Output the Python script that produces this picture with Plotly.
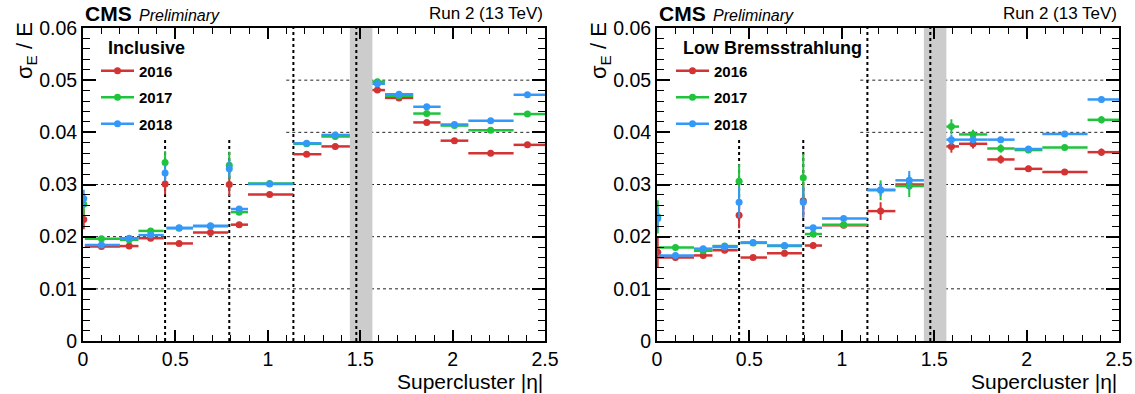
import plotly.graph_objects as go

# ---------------- data ----------------
years = ["2016", "2017", "2018"]
colors = {"2016": "#d43333", "2017": "#1fc43c", "2018": "#3398fa"}

eta_center = [0.004, 0.10, 0.25, 0.366, 0.4442, 0.52, 0.69, 0.7915, 0.845,
              1.01, 1.21, 1.365, 1.593, 1.71, 1.86, 2.01, 2.206, 2.405]
eta_low = [0.0, 0.01, 0.20, 0.30, 0.437, 0.452, 0.595, 0.785, 0.80,
           0.893, 1.1385, 1.29, 1.566, 1.634, 1.787, 1.935, 2.085, 2.33]
eta_high = [0.008, 0.20, 0.30, 0.437, 0.451, 0.595, 0.785, 0.798, 0.893,
            1.1385, 1.29, 1.4442, 1.634, 1.787, 1.935, 2.085, 2.33, 2.5]

# Inclusive
incl_2016 = [0.0233, 0.0181, 0.0182, 0.0197, 0.0301, 0.0187, 0.0208, 0.0300, 0.0223,
             0.0281, 0.0358, 0.0373, 0.0481, 0.0466, 0.0419, 0.0384, 0.0360, 0.0376]
incl_2017 = [0.0262, 0.0196, 0.0194, 0.0211, 0.0342, 0.0216, 0.0220, 0.0337, 0.0247,
             0.0302, 0.0378, 0.0392, 0.0497, 0.0470, 0.0436, 0.0413, 0.0404, 0.0435]
incl_2018 = [0.0273, 0.0184, 0.0197, 0.0203, 0.0322, 0.0217, 0.0221, 0.0330, 0.0253,
             0.0301, 0.0379, 0.0395, 0.0493, 0.0473, 0.0449, 0.0415, 0.0422, 0.0472]
incl_err_2016 = [0.0019, 0.0002, 0.0002, 0.0003, 0.0020, 0.0002, 0.0002, 0.0022, 0.0003,
                 0.0002, 0.0002, 0.0003, 0.0004, 0.0003, 0.0003, 0.0003, 0.0002, 0.0004]
incl_err_2017 = [0.0020, 0.0002, 0.0002, 0.0003, 0.0022, 0.0002, 0.0002, 0.0026, 0.0003,
                 0.0002, 0.0002, 0.0003, 0.0004, 0.0003, 0.0003, 0.0003, 0.0002, 0.0005]
incl_err_2018 = [0.0017, 0.0002, 0.0002, 0.0002, 0.0015, 0.0002, 0.0002, 0.0017, 0.0002,
                 0.0002, 0.0002, 0.0002, 0.0003, 0.0002, 0.0002, 0.0002, 0.0002, 0.0003]

# Low Bremsstrahlung
lb_2016 = [0.0170, 0.0160, 0.0164, 0.0174, 0.0241, 0.0160, 0.0168, 0.0269, 0.0183,
           0.0222, 0.0249, 0.0300, 0.0373, 0.0378, 0.0348, 0.0330, 0.0324, 0.0362]
lb_2017 = [0.0238, 0.0179, 0.0173, 0.0182, 0.0306, 0.0188, 0.0182, 0.0313, 0.0205,
           0.0223, 0.0289, 0.0297, 0.0411, 0.0396, 0.0369, 0.0366, 0.0371, 0.0424]
lb_2018 = [0.0235, 0.0164, 0.0177, 0.0180, 0.0266, 0.0189, 0.0183, 0.0266, 0.0217,
           0.0235, 0.0290, 0.0308, 0.0386, 0.0386, 0.0386, 0.0368, 0.0397, 0.0463]
lb_err_2016 = [0.0028, 0.0003, 0.0004, 0.0004, 0.0025, 0.0003, 0.0003, 0.0032, 0.0006,
               0.0004, 0.0017, 0.0010, 0.0012, 0.0009, 0.0008, 0.0006, 0.0004, 0.0007]
lb_err_2017 = [0.0032, 0.0003, 0.0004, 0.0004, 0.0033, 0.0003, 0.0003, 0.0046, 0.0006,
               0.0004, 0.0019, 0.0021, 0.0014, 0.0009, 0.0008, 0.0006, 0.0004, 0.0007]
lb_err_2018 = [0.0020, 0.0003, 0.0003, 0.0003, 0.0030, 0.0003, 0.0003, 0.0030, 0.0004,
               0.0003, 0.0012, 0.0018, 0.0010, 0.0005, 0.0004, 0.0004, 0.0003, 0.0004]

panels = [
    ("Inclusive", {"2016": (incl_2016, incl_err_2016),
                   "2017": (incl_2017, incl_err_2017),
                   "2018": (incl_2018, incl_err_2018)}),
    ("Low Bremsstrahlung", {"2016": (lb_2016, lb_err_2016),
                            "2017": (lb_2017, lb_err_2017),
                            "2018": (lb_2018, lb_err_2018)}),
]

# detector geometry markers
module_edges = [0.4442, 0.7915]
module_edge_top = 0.0388
barrel_edge = 1.1385
crack_lo, crack_hi, crack_line = 1.4442, 1.566, 1.479
grid_full = [0.01, 0.02, 0.03]
grid_part = [0.04, 0.05]
grid_part_start = 1.10

# ---------------- layout geometry ----------------
W, H = 1135, 394
FONT = "Liberation Sans, Arial, Helvetica, sans-serif"
x_domains = [[83 / W, 545 / W], [657 / W, 1119 / W]]
y_domain = [1 - 341 / H, 1 - 28 / H]

ex_plus = [h - c for h, c in zip(eta_high, eta_center)]
ex_minus = [c - l for c, l in zip(eta_center, eta_low)]

fig = go.Figure()
shapes = []
annotations = []

for i, (label, series) in enumerate(panels):
    xa = "x" if i == 0 else "x2"
    ya = "y" if i == 0 else "y2"
    lg = "legend" if i == 0 else "legend2"

    # grid lines
    for g in grid_full:
        shapes.append(dict(type="line", xref=xa, yref=ya, x0=0, x1=2.5, y0=g, y1=g,
                           line=dict(color="#222", width=1, dash="dot"), layer="below"))
    for g in grid_part:
        shapes.append(dict(type="line", xref=xa, yref=ya, x0=grid_part_start, x1=2.5, y0=g, y1=g,
                           line=dict(color="#222", width=1, dash="dot"), layer="below"))
    # crack band
    shapes.append(dict(type="rect", xref=xa, yref=ya, x0=crack_lo, x1=crack_hi, y0=0, y1=0.06,
                       fillcolor="#cccccc", line=dict(width=0), layer="below"))
    # dashed detector lines
    for m in module_edges:
        shapes.append(dict(type="line", xref=xa, yref=ya, x0=m, x1=m, y0=0, y1=module_edge_top,
                           line=dict(color="black", width=2, dash="dot"), layer="below"))
    for m in [barrel_edge, crack_line]:
        shapes.append(dict(type="line", xref=xa, yref=ya, x0=m, x1=m, y0=0, y1=0.06,
                           line=dict(color="black", width=2, dash="dot"), layer="below"))

    for yr in years:
        vals, errs = series[yr]
        fig.add_trace(go.Scatter(
            x=eta_center, y=vals, xaxis=xa, yaxis=ya, mode="markers",
            marker=dict(color=colors[yr], size=7, symbol="circle"),
            error_x=dict(type="data", symmetric=False, array=ex_plus, arrayminus=ex_minus,
                         color=colors[yr], thickness=2.5, width=0),
            error_y=dict(type="data", array=errs, color=colors[yr], thickness=2, width=0),
            showlegend=False, hoverinfo="skip"))
        # legend entry
        fig.add_trace(go.Scatter(
            x=[None], y=[None], xaxis=xa, yaxis=ya, mode="lines+markers",
            line=dict(color=colors[yr], width=2.5),
            marker=dict(color=colors[yr], size=7),
            name=f"<b>{yr}</b>", legend=lg, legendgroup=f"{lg}{yr}", showlegend=True))

    x0, x1 = x_domains[i]
    # CMS labels
    annotations.append(dict(xref="paper", yref="paper", x=x0, y=1 - 14 / H, xanchor="left", yanchor="middle",
                            text="<b>CMS</b>", showarrow=False, font=dict(family=FONT, size=21, color="black")))
    annotations.append(dict(xref="paper", yref="paper", x=x0 + 54 / W, y=1 - 15 / H, xanchor="left",
                            yanchor="middle", text="<i>Preliminary</i>", showarrow=False,
                            font=dict(family=FONT, size=16, color="black")))
    annotations.append(dict(xref="paper", yref="paper", x=x1, y=1 - 14 / H, xanchor="right", yanchor="middle",
                            text="Run 2 (13 TeV)", showarrow=False, font=dict(family=FONT, size=17, color="black")))
    # axis titles
    annotations.append(dict(xref="paper", yref="paper", x=x1, y=1 - 381 / H, xanchor="right", yanchor="middle",
                            text="Supercluster |η|", showarrow=False, font=dict(family=FONT, size=21, color="black")))
    annotations.append(dict(xref="paper", yref="paper", x=x0 - 57 / W, y=1 - 51 / H, xanchor="center",
                            yanchor="middle", textangle=-90, text="σ<sub>E</sub> / E", showarrow=False,
                            font=dict(family=FONT, size=22, color="black")))

axis_common = dict(showline=True, linewidth=2, linecolor="black", mirror="ticks", ticks="inside",
                   tickcolor="black", tickwidth=1.5, showgrid=False, zeroline=False, automargin=False,
                   tickfont=dict(family=FONT, size=19.5, color="black"))
xaxis_cfg = dict(range=[0, 2.5], tick0=0, dtick=0.5, ticklen=11,
                 minor=dict(ticks="inside", ticklen=6, dtick=0.1, tickcolor="black", tickwidth=1), **axis_common)
yaxis_cfg = dict(range=[0, 0.06], tick0=0, dtick=0.01, ticklen=13,
                 minor=dict(ticks="inside", ticklen=7, dtick=0.002, tickcolor="black", tickwidth=1), **axis_common)

legend_common = dict(bgcolor="rgba(255,255,255,0)", borderwidth=0, font=dict(family=FONT, size=15, color="black"),
                     itemwidth=33, tracegroupgap=4, xanchor="left", yanchor="top")
NB = "\u00a0\u00a0"

fig.update_layout(
    width=W, height=H, margin=dict(l=0, r=0, t=0, b=0),
    paper_bgcolor="white", plot_bgcolor="white",
    font=dict(family=FONT, color="black"),
    xaxis=dict(domain=x_domains[0], anchor="y", **xaxis_cfg),
    yaxis=dict(domain=y_domain, anchor="x", **yaxis_cfg),
    xaxis2=dict(domain=x_domains[1], anchor="y2", **xaxis_cfg),
    yaxis2=dict(domain=y_domain, anchor="x2", **yaxis_cfg),
    legend=dict(x=96 / W, y=1 - 31 / H,
                title=dict(text=NB + "<b>Inclusive</b>", font=dict(family=FONT, size=18, color="black")),
                **legend_common),
    legend2=dict(x=671 / W, y=1 - 31 / H,
                 title=dict(text=NB + "<b>Low Bremsstrahlung</b>", font=dict(family=FONT, size=18, color="black")),
                 **legend_common),
    shapes=shapes, annotations=annotations,
)

fig.write_html("out.html")
